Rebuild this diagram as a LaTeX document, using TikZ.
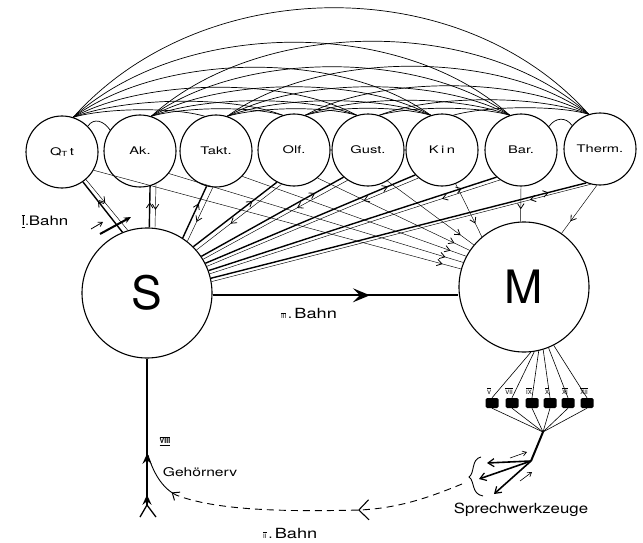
\documentclass[tikz,border=0pt]{standalone}
\usepackage{fontspec}
\setmainfont{TeX Gyre Heros}
\usepackage{graphicx}
\usetikzlibrary{arrows.meta,decorations.markings,calc}
\newcommand{\hw}[2]{\scalebox{#1}[1]{#2}}
\newcommand{\rnum}[1]{$\overline{\mbox{\fontsize{6}{6}\selectfont #1}}$}
\newcommand{\rnumu}[1]{$\underline{\overline{\mbox{\fontsize{7}{7}\selectfont\bfseries #1}}}$}
\newcommand{\rnbig}[1]{$\underline{\overline{\mbox{#1}}}$}
\tikzset{
 sense/.style={circle,draw,line width=1.1pt,minimum size=72pt,inner sep=0pt,font=\fontsize{10.5}{11}\selectfont},
 centre/.style={circle,draw,line width=1.1pt,minimum size=130pt,inner sep=0pt,font=\fontsize{46}{46}\selectfont},
 arcline/.style={line width=0.7pt},
 fatline/.style={line width=1.4pt},
 finline/.style={line width=0.45pt},
 tipat/.style={postaction={decorate,decoration={markings,mark=at position #1 with {\arrow{Straight Barb[length=5pt,width=6.5pt,line width=0.8pt]}}}}},
 bigtipat/.style={postaction={decorate,decoration={markings,mark=at position #1 with {\arrow{Stealth[length=10pt,width=9pt,inset=3.5pt]}}}}},
 hugetipat/.style={postaction={decorate,decoration={markings,mark=at position #1 with {\arrow{Stealth[length=17pt,width=14pt,inset=7pt]}}}}},
 opentipat/.style={postaction={decorate,decoration={markings,mark=at position #1 with {\arrow{Straight Barb[length=10pt,width=20pt,line width=1.1pt]}}}}},
 organ/.style={rectangle,fill=black,rounded corners=1.5pt,minimum width=13pt,minimum height=10pt,inner sep=0pt},
 lab/.style={inner sep=0pt},
}
\begin{document}
\begin{tikzpicture}[x=1pt,y=-1pt]
\fill[white] (0,0) rectangle (643,543);
\useasboundingbox (0,0) rectangle (643,543);

% sensory centres
\node[sense] (c1) at (62,152) {\hw{1.4}{Q\raisebox{-1.5pt}{\fontsize{7}{7}\selectfont T}\,t}};
\node[sense] (c2) at (140,151) {\hw{1.4}{Ak.}};
\node[sense] (c3) at (216,151) {\hw{1.4}{Takt.}};
\node[sense] (c4) at (294,150) {\hw{1.4}{Olf.}};
\node[sense] (c5) at (368,150) {\hw{1.4}{Gust.}};
\node[sense] (c6) at (442,150) {\hw{1.4}{K\,i\,n}};
\node[sense] (c7) at (521,150) {\hw{1.4}{Bar.}};
\node[sense] (c8) at (600,149) {\hw{1.4}{Therm.}};

\node[centre] (S) at (147,293) {S};
\node[centre] (M) at (524,287) {M};

% arcs between the centres
\foreach \i in {1,...,6}{
  \pgfmathtruncatemacro\js{\i+2}
  \foreach \j in {\js,...,8}{
    \pgfmathtruncatemacro\kk{\j-\i}
    \pgfmathsetmacro\hgt{{0,0,7,15,29,49,74,108}[\kk]}
    \pgfmathsetmacro\hh{\hgt*4/3}
    \pgfmathsetmacro\ax{(\kk*77-24)/4}
    \draw[arcline] (c\i.72) .. controls ($(c\i.72)+(\ax,-\hh)$) and ($(c\j.108)+(-\ax,-\hh)$) .. (c\j.108);
  }
}
\draw[arcline] (c1.45) .. controls ($(c1.45)+(6,-9)$) and ($(c2.145)+(-6,-9)$) .. (c2.145);
\draw[arcline] (c7.40) .. controls ($(c7.40)+(6,-9)$) and ($(c8.140)+(-6,-9)$) .. (c8.140);

% S <-> centres
\foreach \c/\ts/\tc/\fs/\fc/\ta/\fa in {
 c1/112/-55/107/-49/0.62/0.46,
 c2/88/-74/83/-64/0.61/0.59,
 c3/57/-105/52/-95/0.67/0.64,
 c4/45/-118/41/-110/0.71/0.6,
 c5/34/-132/31/-124/0.8/0.35,
 c6/27/-137/24/-130/0.87/0.26,
 c7/20/-132/17/-125/0.88/0.2,
 c8/13/-112/10/-105/0.9/0.16}
{ \draw[fatline,tipat=\ta] (S.\ts) -- (\c.\tc);
  \draw[finline,tipat=\fa] (\c.\fc) -- (S.\fs); }

% centres -> M
\foreach \c/\ca/\ma/\pa in {c1/-30/164/0.95, c2/-38/158/0.94, c3/-44/152/0.93, c4/-50/146/0.9, c5/-58/140/0.85, c6/-68/130/0.75, c7/-90/93/0.65, c8/-95/55/0.75}
 \draw[finline,tipat=\pa] (\c.\ca) -- (M.\ma);

% III. Bahn
\draw[line width=1.6pt,hugetipat=0.64] (S.-2) -- (S.-2 -| M.west);
\node[lab,anchor=west] (b3l) at (281,314) {\rnum{III}\hspace{2pt}{\fontsize{14}{14}\selectfont .\,\hw{1.3}{Bahn}}};

% I. Bahn
\node[lab] (b1l) at (45,221) {\fontsize{13}{13}\selectfont\rnbig{I}.\hw{1.3}{Bahn}};
\coordinate (i1) at (100,234);
\coordinate (i2) at (131,217);
\draw[line width=2pt,-{Stealth[length=7pt,width=6pt]}] (i1) -- (i2);
\coordinate (ia) at (91,229);
\coordinate (ib) at (103,222);
\draw[line width=0.8pt,-{Straight Barb[length=4pt,width=5pt]}] (ia) -- (ib);

% Gehoernerv
\coordinate (ft) at (147,505);
\coordinate (fl) at (140,517);
\coordinate (fr) at (156,517);
\draw[line width=1.3pt,bigtipat=0.07,bigtipat=0.35] (ft) -- (S.south);
\draw[line width=1.3pt] (ft) -- (fl);
\draw[line width=1.3pt] (ft) -- (fr);
\coordinate (gj) at (148,455);
\coordinate (gb) at (176,495);
\draw[line width=0.9pt,postaction={decorate,decoration={markings,mark=at position 0.1 with {\arrow{Straight Barb[length=6pt,width=10pt,line width=1pt]}}}}] (gb) .. controls (162,488) and (153,472) .. (gj);
\node[lab] (viii) at (165,441) {\rnumu{VIII}};
\node[lab] (geh) at (200,472) {\fontsize{12}{12}\selectfont\hw{1.3}{Gehörnerv}};

% II. Bahn (dashed)
\coordinate (dt) at (462,484);
\draw[line width=0.9pt,dash pattern=on 7pt off 5pt,opentipat=0.37] (dt) .. controls (430,497) and (400,508) .. (360,510) .. controls (280,512) and (215,510) .. (gb);
\node[lab,anchor=west] (b2l) at (263,533) {\rnum{II}\hspace{2pt}{\fontsize{14}{14}\selectfont .\,\hw{1.3}{Bahn}}};

% speech organs
\foreach \i/\x/\r in {1/492/V,2/512/VII,3/532/IX,4/550/X,5/568/XI,6/587/XII}{
  \node[organ] (b\i) at (\x,403) {};
  \node[lab] (r\i) at (\x-3,391) {\rnum{\r}};
}
\foreach \i/\a in {1/-84,2/-81,3/-77,4/-73,5/-68,6/-63}
  \draw[line width=0.6pt] (M.\a) -- (b\i.north);
\coordinate (jn) at (543,432);
\foreach \i in {1,...,6}
  \draw[line width=0.6pt] (b\i.south) -- (jn);
\coordinate (st) at (531,461);
\draw[line width=2pt] (jn) -- (st);
\coordinate (o1) at (487,463);
\coordinate (o2) at (479,479);
\coordinate (o3) at (494,494);
\foreach \o in {o1,o2,o3}
  \draw[line width=1.6pt,-{Straight Barb[length=6pt,width=8pt,line width=1.2pt]}] (st) -- (\o);
\coordinate (r1s) at (510,458);
\coordinate (r1e) at (527,452);
\coordinate (r2s) at (520,481);
\coordinate (r2e) at (532,472);
\draw[line width=0.6pt,-{Straight Barb[length=4pt,width=5pt]}] (r1s) -- (r1e);
\draw[line width=0.6pt,-{Straight Barb[length=4pt,width=5pt]}] (r2s) -- (r2e);
\coordinate (bra) at (481,457);
\coordinate (bt) at (469,477);
\coordinate (brb) at (483,496);
\draw[line width=0.9pt] (bra) .. controls (471,459) and (475,473) .. (bt) .. controls (475,481) and (471,494) .. (brb);
\node[lab] (spw) at (521,510) {\fontsize{14}{14}\selectfont\hw{1.2}{Sprechwerkzeuge}};
\end{tikzpicture}
\end{document}
